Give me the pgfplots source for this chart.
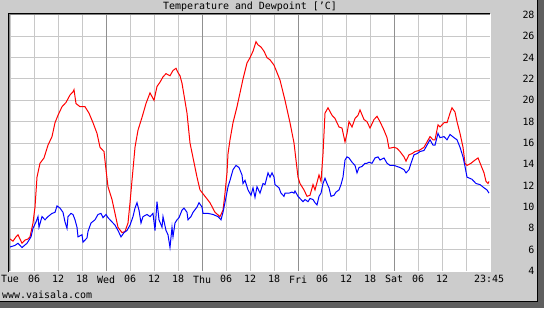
\documentclass[border=0pt]{standalone}
\usepackage{fontspec}
\setmainfont{DejaVu Sans Mono}
\usepackage{pgfplots}
\pgfplotsset{compat=1.18}
\definecolor{bggray}{RGB}{204,204,204}
\definecolor{gridgray}{RGB}{200,200,200}
\definecolor{daygray}{RGB}{144,144,144}
\definecolor{shadowc}{RGB}{95,95,95}
\definecolor{innergray}{RGB}{128,128,128}
\begin{document}
\begin{tikzpicture}[x=1bp,y=1bp]
\useasboundingbox (0,0) rectangle (544,308);
\fill[bggray] (0,0) rectangle (544,308);
\fill[shadowc] (538,0) rectangle (544,308);
\fill[shadowc] (0,0) rectangle (544,6);
\draw[black, line width=1bp] (537.5,6) -- (537.5,308);
\draw[black, line width=1bp] (0,6.5) -- (538,6.5);
\fill[white] (10,37) rectangle (490,293);
\node[anchor=center, inner sep=0, font=\fontsize{10}{12}\selectfont] at (250,301) {Temperature and Dewpoint [’C]};
\node[anchor=west, inner sep=0, font=\fontsize{10}{12}\selectfont] at (2,13) {www.vaisala.com};
\begin{axis}[
  at={(10bp,37bp)}, anchor=south west, scale only axis,
  width=480bp, height=256bp,
  xmin=0, xmax=120, ymin=4, ymax=28,
  axis line style={draw=none},
  xtick={0,6,...,114},
  xticklabels={Tue,06,12,18,Wed,06,12,18,Thu,06,12,18,Fri,06,12,18,Sat,06,12,{}},
  extra x ticks={119.75}, extra x tick labels={23:45},
  extra x tick style={grid=none},
  ytick={4,6,...,28},
  yticklabel pos=right,
  yticklabel style={anchor=east, xshift=48bp},
  xticklabel style={yshift=-1bp},
  grid=major,
  major grid style={gridgray, line width=1bp},
  major tick length=0pt,
  tick style={draw=none},
  ticklabel style={font=\fontsize{10}{12}\selectfont},
  /pgf/number format/assume math mode=true,
  clip=true,
]
\draw[daygray, line width=1bp] (axis cs:24,4) -- (axis cs:24,28);
\draw[daygray, line width=1bp] (axis cs:48,4) -- (axis cs:48,28);
\draw[daygray, line width=1bp] (axis cs:72,4) -- (axis cs:72,28);
\draw[daygray, line width=1bp] (axis cs:96,4) -- (axis cs:96,28);
% Temperature
\addplot[red, line width=1bp, mark=none] coordinates {
(0,7.0)(0.75,6.8)(1.5,7.2)(2,7.4)(2.5,7.0)(3,6.6)(3.75,6.9)(4.5,7.0)(5,7.2)(5.75,8.5)(6.25,10.0)(6.75,12.8)
(7.5,14.1)(8.5,14.6)(9.5,15.8)(10.5,16.6)(11.25,17.9)(12,18.6)(13,19.4)(14,19.8)(15,20.5)(15.75,20.8)(16,21.0)
(16.5,19.7)(17.5,19.4)(18.75,19.4)(19.75,18.8)(20.75,17.9)(21.75,16.9)(22.5,15.6)(23.5,15.2)(24,13.5)(24.5,11.9)
(25.5,10.7)(26.25,9.4)(27,8.1)(28,7.6)(28.75,7.7)(29.5,8.5)(30,10.4)(30.5,12.5)(31.25,15.6)(32,17.2)(33,18.4)
(34,19.7)(35,20.7)(36,20.0)(36.75,21.3)(37.5,21.7)(38.25,22.2)(39,22.5)(40,22.3)(40.75,22.8)(41.5,23.0)(42,22.6)
(42.5,22.3)(43,21.6)(44.25,18.8)(45,16.0)(46.75,12.8)(47.5,11.6)(48.75,11.0)(50,10.4)(51.25,9.5)(52.5,9.1)
(53.25,9.7)(53.75,11.3)(54.25,13.2)(54.5,15.0)(55,16.3)(55.75,17.9)(56.75,19.4)(57.5,20.7)(58.25,22.0)(59.25,23.5)
(60,24.0)(60.75,24.6)(61.5,25.5)(62,25.2)(62.75,25.0)(63.5,24.6)(64.25,24.0)(65,23.8)(66,23.3)(67.5,21.9)
(68.75,20.0)(70,17.9)(71,16.0)(71.5,14.4)(72,12.8)(72.5,12.2)(73.5,11.6)(74.25,11.0)(75,11.1)(75.75,12.1)
(76.25,11.6)(77.25,13.0)(77.75,12.4)(78.25,15.0)(78.75,18.8)(79.5,19.3)(80.5,18.6)(81.25,18.3)(82.25,17.5)
(83,17.4)(83.75,16.1)(84.25,16.9)(84.75,18.0)(85.5,17.5)(86.25,18.3)(87,18.6)(87.5,19.1)(88.5,18.2)(89.25,18.0)
(90,17.4)(91,18.2)(91.75,18.5)(92.5,18.0)(93.5,17.2)(94.25,16.5)(94.75,15.5)(96,15.6)(96.75,15.5)(97.5,15.2)
(98.5,14.7)(99,14.3)(99.75,14.9)(100.5,15.0)(101.25,15.2)(102.25,15.3)(103.5,15.6)(104.25,16.1)(105,16.6)
(105.75,16.3)(106.25,16.3)(107,17.7)(107.5,17.5)(108.5,17.9)(109.25,17.9)(110,18.8)(110.5,19.3)(111.25,18.9)
(111.75,18.0)(112.5,16.9)(113.25,15.6)(113.75,14.1)(114.25,13.9)(115.25,14.1)(116.25,14.4)(117,14.6)
(117.75,13.9)(118.5,13.2)(119,12.4)(119.5,12.2)(119.75,12.4)
};
% Dewpoint
\addplot[blue, line width=1bp, mark=none] coordinates {
(0,6.25)(1.25,6.4)(2,6.6)(3,6.2)(4.25,6.6)(5.25,7.2)(5.75,8.0)(6.5,8.6)(7,9.1)(7.25,8.1)(8,9.1)(8.75,8.8)
(9.5,9.1)(10.5,9.4)(11.25,9.5)(11.75,10.1)(12.5,9.9)(13.25,9.5)(13.75,8.6)(14.25,8.0)(14.5,9.1)(15.25,9.4)
(15.75,9.3)(16.25,8.8)(16.75,8.1)(17,7.2)(18,7.4)(18.25,6.7)(19.25,7.1)(19.5,7.7)(20.25,8.5)(21.25,8.8)
(22,9.3)(22.75,9.4)(23.25,9.0)(24,9.3)(24.5,9.0)(25.5,8.6)(26.25,8.3)(27,7.8)(27.75,7.2)(28.5,7.6)(29.25,7.8)
(30,8.3)(30.75,9.1)(31.25,9.9)(31.75,10.4)(32.25,9.7)(32.75,8.5)(33.25,9.1)(34.25,9.3)(35,9.1)(35.75,9.4)
(36.25,7.8)(36.75,10.5)(37.25,8.8)(38,8.1)(38.25,9.1)(39,7.8)(39.5,7.4)(40,6.2)(40.5,8.1)(40.75,7.2)(41.25,8.5)
(41.75,8.8)(42.25,9.0)(43,9.7)(43.5,9.9)(44.25,9.5)(44.5,8.8)(45.25,9.1)(45.75,9.5)(46.75,10.0)(47.25,10.4)
(48,10.0)(48.25,9.4)(49.5,9.4)(50.75,9.3)(52,9.1)(52.75,8.8)(53.25,9.5)(54,10.9)(54.5,11.9)(55,12.5)(55.75,13.5)
(56.5,13.9)(57.25,13.7)(58,13.0)(58.25,12.2)(58.75,12.5)(59.5,11.6)(60.25,11.1)(60.75,11.8)(61.25,10.9)
(61.75,11.9)(62.5,11.3)(63.25,12.2)(63.75,12.1)(64.5,13.2)(65,12.8)(65.5,13.2)(66,12.8)(66.25,12.1)(67.25,11.8)
(67.75,11.3)(68.5,11.0)(68.75,11.3)(69.75,11.3)(70.5,11.4)(71,11.3)(71.25,11.5)(72,11.0)(72.5,10.8)(73.25,10.5)
(73.75,10.7)(74.5,10.5)(75,10.8)(75.75,10.7)(76.25,10.4)(76.75,10.2)(77.25,11.0)(77.75,11.3)(78.25,12.2)
(78.75,12.7)(79.25,12.2)(79.75,11.8)(80.25,11.0)(81,11.1)(81.5,11.4)(82.25,11.6)(82.75,12.1)(83.25,12.8)
(83.75,14.4)(84.25,14.7)(84.75,14.6)(85.5,14.2)(86.25,13.9)(86.75,13.2)(87.25,13.7)(88,13.8)(88.75,14.1)
(89.25,14.1)(89.75,14.2)(90.5,14.1)(91.25,14.6)(92,14.7)(92.5,14.4)(93.5,14.6)(94.25,14.1)(95,13.9)(96,13.9)
(96.75,13.8)(97.5,13.7)(98.5,13.5)(99,13.2)(99.75,13.5)(100.25,14.1)(101,14.9)(101.75,15.0)(102.5,15.2)
(103.5,15.3)(104.25,15.8)(105,16.3)(105.75,15.8)(106.25,15.8)(107,16.9)(107.5,16.5)(108.5,16.6)(109.25,16.3)
(110,16.8)(111,16.5)(111.75,16.3)(112.5,15.6)(113.25,14.7)(113.75,13.8)(114.25,12.8)(115.5,12.6)(116.5,12.2)
(117.5,12.1)(118.5,11.8)(119.25,11.6)(119.75,11.3)
};
\end{axis}
\draw[innergray, line width=1bp] (9.5,36.5) -- (9.5,293.5) -- (490,293.5);
\draw[black, line width=1bp] (8.5,36) -- (8.5,294.5) -- (490,294.5);
\draw[white, line width=1bp] (9,36.5) -- (490.5,36.5) -- (490.5,294);
\end{tikzpicture}
\end{document}
